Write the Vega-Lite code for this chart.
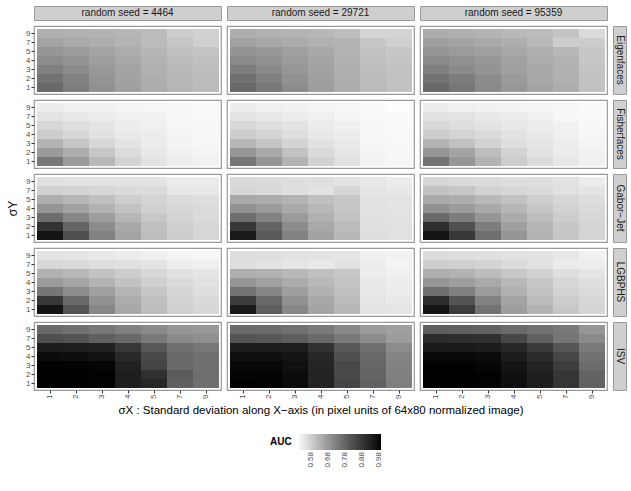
{
"$schema": "https://vega.github.io/schema/vega-lite/v6.json",
"background": "white",
"padding": {"left": 5, "top": 5, "right": 5, "bottom": 5},
"columns": 4,
"spacing": 6,
"bounds": "flush",
"resolve": {"scale": {"color": "shared"}},
"config": {
  "font": "Liberation Sans",
  "view": {"stroke": "#9a9a9a", "strokeWidth": 1.2},
  "axis": {"domain": false, "grid": false, "tickSize": 3, "tickColor": "#333333", "labelFontSize": 8, "labelColor": "#4d4d4d", "labelPadding": 1, "titleFontSize": 11.5, "titleFontWeight": "normal", "titleColor": "#000000"},
  "axisX": {"labelAngle": -90, "titlePadding": 6},
  "axisY": {"labelAngle": 0, "titlePadding": 6},
  "scale": {"bandPaddingInner": 0},
  "legend": {"orient": "none", "legendX": 236, "legendY": 428, "direction": "horizontal", "gradientLength": 84, "gradientThickness": 16, "titleOrient": "left", "titleFontWeight": "bold", "titleFontSize": 10, "titleColor": "#000000", "labelFontSize": 8, "labelColor": "#4d4d4d", "labelOverlap": false}
},
"datasets": {
"E1": [
{"sx":1,"sy":9,"auc":0.639},{"sx":2,"sy":9,"auc":0.636},{"sx":3,"sy":9,"auc":0.632},{"sx":4,"sy":9,"auc":0.628},{"sx":5,"sy":9,"auc":0.618},{"sx":7,"sy":9,"auc":0.586},{"sx":9,"sy":9,"auc":0.578},
{"sx":1,"sy":7,"auc":0.659},{"sx":2,"sy":7,"auc":0.650},{"sx":3,"sy":7,"auc":0.641},{"sx":4,"sy":7,"auc":0.632},{"sx":5,"sy":7,"auc":0.618},{"sx":7,"sy":7,"auc":0.599},{"sx":9,"sy":7,"auc":0.581},
{"sx":1,"sy":5,"auc":0.686},{"sx":2,"sy":5,"auc":0.677},{"sx":3,"sy":5,"auc":0.659},{"sx":4,"sy":5,"auc":0.646},{"sx":5,"sy":5,"auc":0.628},{"sx":7,"sy":5,"auc":0.610},{"sx":9,"sy":5,"auc":0.603},
{"sx":1,"sy":4,"auc":0.705},{"sx":2,"sy":4,"auc":0.690},{"sx":3,"sy":4,"auc":0.671},{"sx":4,"sy":4,"auc":0.653},{"sx":5,"sy":4,"auc":0.632},{"sx":7,"sy":4,"auc":0.618},{"sx":9,"sy":4,"auc":0.610},
{"sx":1,"sy":3,"auc":0.728},{"sx":2,"sy":3,"auc":0.705},{"sx":3,"sy":3,"auc":0.682},{"sx":4,"sy":3,"auc":0.659},{"sx":5,"sy":3,"auc":0.636},{"sx":7,"sy":3,"auc":0.621},{"sx":9,"sy":3,"auc":0.614},
{"sx":1,"sy":2,"auc":0.753},{"sx":2,"sy":2,"auc":0.724},{"sx":3,"sy":2,"auc":0.690},{"sx":4,"sy":2,"auc":0.664},{"sx":5,"sy":2,"auc":0.641},{"sx":7,"sy":2,"auc":0.625},{"sx":9,"sy":2,"auc":0.618},
{"sx":1,"sy":1,"auc":0.772},{"sx":2,"sy":1,"auc":0.734},{"sx":3,"sy":1,"auc":0.696},{"sx":4,"sy":1,"auc":0.668},{"sx":5,"sy":1,"auc":0.646},{"sx":7,"sy":1,"auc":0.628},{"sx":9,"sy":1,"auc":0.618}
],
"E2": [
{"sx":1,"sy":9,"auc":0.641},{"sx":2,"sy":9,"auc":0.636},{"sx":3,"sy":9,"auc":0.632},{"sx":4,"sy":9,"auc":0.626},{"sx":5,"sy":9,"auc":0.614},{"sx":7,"sy":9,"auc":0.574},{"sx":9,"sy":9,"auc":0.574},
{"sx":1,"sy":7,"auc":0.664},{"sx":2,"sy":7,"auc":0.653},{"sx":3,"sy":7,"auc":0.646},{"sx":4,"sy":7,"auc":0.636},{"sx":5,"sy":7,"auc":0.632},{"sx":7,"sy":7,"auc":0.596},{"sx":9,"sy":7,"auc":0.581},
{"sx":1,"sy":5,"auc":0.690},{"sx":2,"sy":5,"auc":0.682},{"sx":3,"sy":5,"auc":0.668},{"sx":4,"sy":5,"auc":0.653},{"sx":5,"sy":5,"auc":0.632},{"sx":7,"sy":5,"auc":0.605},{"sx":9,"sy":5,"auc":0.599},
{"sx":1,"sy":4,"auc":0.709},{"sx":2,"sy":4,"auc":0.696},{"sx":3,"sy":4,"auc":0.677},{"sx":4,"sy":4,"auc":0.659},{"sx":5,"sy":4,"auc":0.636},{"sx":7,"sy":4,"auc":0.610},{"sx":9,"sy":4,"auc":0.603},
{"sx":1,"sy":3,"auc":0.734},{"sx":2,"sy":3,"auc":0.709},{"sx":3,"sy":3,"auc":0.686},{"sx":4,"sy":3,"auc":0.664},{"sx":5,"sy":3,"auc":0.639},{"sx":7,"sy":3,"auc":0.614},{"sx":9,"sy":3,"auc":0.605},
{"sx":1,"sy":2,"auc":0.759},{"sx":2,"sy":2,"auc":0.728},{"sx":3,"sy":2,"auc":0.696},{"sx":4,"sy":2,"auc":0.668},{"sx":5,"sy":2,"auc":0.641},{"sx":7,"sy":2,"auc":0.618},{"sx":9,"sy":2,"auc":0.606},
{"sx":1,"sy":1,"auc":0.772},{"sx":2,"sy":1,"auc":0.740},{"sx":3,"sy":1,"auc":0.705},{"sx":4,"sy":1,"auc":0.671},{"sx":5,"sy":1,"auc":0.646},{"sx":7,"sy":1,"auc":0.618},{"sx":9,"sy":1,"auc":0.605}
],
"E3": [
{"sx":1,"sy":9,"auc":0.646},{"sx":2,"sy":9,"auc":0.639},{"sx":3,"sy":9,"auc":0.632},{"sx":4,"sy":9,"auc":0.623},{"sx":5,"sy":9,"auc":0.618},{"sx":7,"sy":9,"auc":0.603},{"sx":9,"sy":9,"auc":0.564},
{"sx":1,"sy":7,"auc":0.668},{"sx":2,"sy":7,"auc":0.659},{"sx":3,"sy":7,"auc":0.650},{"sx":4,"sy":7,"auc":0.641},{"sx":5,"sy":7,"auc":0.623},{"sx":7,"sy":7,"auc":0.586},{"sx":9,"sy":7,"auc":0.586},
{"sx":1,"sy":5,"auc":0.686},{"sx":2,"sy":5,"auc":0.677},{"sx":3,"sy":5,"auc":0.668},{"sx":4,"sy":5,"auc":0.653},{"sx":5,"sy":5,"auc":0.641},{"sx":7,"sy":5,"auc":0.623},{"sx":9,"sy":5,"auc":0.596},
{"sx":1,"sy":4,"auc":0.709},{"sx":2,"sy":4,"auc":0.696},{"sx":3,"sy":4,"auc":0.682},{"sx":4,"sy":4,"auc":0.664},{"sx":5,"sy":4,"auc":0.646},{"sx":7,"sy":4,"auc":0.632},{"sx":9,"sy":4,"auc":0.599},
{"sx":1,"sy":3,"auc":0.728},{"sx":2,"sy":3,"auc":0.709},{"sx":3,"sy":3,"auc":0.690},{"sx":4,"sy":3,"auc":0.668},{"sx":5,"sy":3,"auc":0.650},{"sx":7,"sy":3,"auc":0.636},{"sx":9,"sy":3,"auc":0.603},
{"sx":1,"sy":2,"auc":0.753},{"sx":2,"sy":2,"auc":0.734},{"sx":3,"sy":2,"auc":0.705},{"sx":4,"sy":2,"auc":0.677},{"sx":5,"sy":2,"auc":0.653},{"sx":7,"sy":2,"auc":0.636},{"sx":9,"sy":2,"auc":0.605},
{"sx":1,"sy":1,"auc":0.772},{"sx":2,"sy":1,"auc":0.744},{"sx":3,"sy":1,"auc":0.709},{"sx":4,"sy":1,"auc":0.682},{"sx":5,"sy":1,"auc":0.659},{"sx":7,"sy":1,"auc":0.641},{"sx":9,"sy":1,"auc":0.605}
],
"F1": [
{"sx":1,"sy":9,"auc":0.530},{"sx":2,"sy":9,"auc":0.526},{"sx":3,"sy":9,"auc":0.523},{"sx":4,"sy":9,"auc":0.519},{"sx":5,"sy":9,"auc":0.516},{"sx":7,"sy":9,"auc":0.512},{"sx":9,"sy":9,"auc":0.509},
{"sx":1,"sy":7,"auc":0.547},{"sx":2,"sy":7,"auc":0.540},{"sx":3,"sy":7,"auc":0.533},{"sx":4,"sy":7,"auc":0.526},{"sx":5,"sy":7,"auc":0.523},{"sx":7,"sy":7,"auc":0.512},{"sx":9,"sy":7,"auc":0.509},
{"sx":1,"sy":5,"auc":0.569},{"sx":2,"sy":5,"auc":0.557},{"sx":3,"sy":5,"auc":0.544},{"sx":4,"sy":5,"auc":0.533},{"sx":5,"sy":5,"auc":0.526},{"sx":7,"sy":5,"auc":0.516},{"sx":9,"sy":5,"auc":0.512},
{"sx":1,"sy":4,"auc":0.586},{"sx":2,"sy":4,"auc":0.569},{"sx":3,"sy":4,"auc":0.552},{"sx":4,"sy":4,"auc":0.538},{"sx":5,"sy":4,"auc":0.530},{"sx":7,"sy":4,"auc":0.518},{"sx":9,"sy":4,"auc":0.512},
{"sx":1,"sy":3,"auc":0.632},{"sx":2,"sy":3,"auc":0.599},{"sx":3,"sy":3,"auc":0.569},{"sx":4,"sy":3,"auc":0.547},{"sx":5,"sy":3,"auc":0.533},{"sx":7,"sy":3,"auc":0.521},{"sx":9,"sy":3,"auc":0.516},
{"sx":1,"sy":2,"auc":0.677},{"sx":2,"sy":2,"auc":0.641},{"sx":3,"sy":2,"auc":0.596},{"sx":4,"sy":2,"auc":0.561},{"sx":5,"sy":2,"auc":0.540},{"sx":7,"sy":2,"auc":0.526},{"sx":9,"sy":2,"auc":0.519},
{"sx":1,"sy":1,"auc":0.744},{"sx":2,"sy":1,"auc":0.677},{"sx":3,"sy":1,"auc":0.623},{"sx":4,"sy":1,"auc":0.574},{"sx":5,"sy":1,"auc":0.547},{"sx":7,"sy":1,"auc":0.530},{"sx":9,"sy":1,"auc":0.523}
],
"F2": [
{"sx":1,"sy":9,"auc":0.530},{"sx":2,"sy":9,"auc":0.526},{"sx":3,"sy":9,"auc":0.523},{"sx":4,"sy":9,"auc":0.519},{"sx":5,"sy":9,"auc":0.516},{"sx":7,"sy":9,"auc":0.509},{"sx":9,"sy":9,"auc":0.503},
{"sx":1,"sy":7,"auc":0.547},{"sx":2,"sy":7,"auc":0.540},{"sx":3,"sy":7,"auc":0.533},{"sx":4,"sy":7,"auc":0.526},{"sx":5,"sy":7,"auc":0.519},{"sx":7,"sy":7,"auc":0.509},{"sx":9,"sy":7,"auc":0.509},
{"sx":1,"sy":5,"auc":0.569},{"sx":2,"sy":5,"auc":0.557},{"sx":3,"sy":5,"auc":0.547},{"sx":4,"sy":5,"auc":0.533},{"sx":5,"sy":5,"auc":0.526},{"sx":7,"sy":5,"auc":0.512},{"sx":9,"sy":5,"auc":0.509},
{"sx":1,"sy":4,"auc":0.586},{"sx":2,"sy":4,"auc":0.574},{"sx":3,"sy":4,"auc":0.557},{"sx":4,"sy":4,"auc":0.540},{"sx":5,"sy":4,"auc":0.530},{"sx":7,"sy":4,"auc":0.514},{"sx":9,"sy":4,"auc":0.510},
{"sx":1,"sy":3,"auc":0.628},{"sx":2,"sy":3,"auc":0.603},{"sx":3,"sy":3,"auc":0.574},{"sx":4,"sy":3,"auc":0.550},{"sx":5,"sy":3,"auc":0.537},{"sx":7,"sy":3,"auc":0.516},{"sx":9,"sy":3,"auc":0.512},
{"sx":1,"sy":2,"auc":0.686},{"sx":2,"sy":2,"auc":0.650},{"sx":3,"sy":2,"auc":0.605},{"sx":4,"sy":2,"auc":0.564},{"sx":5,"sy":2,"auc":0.544},{"sx":7,"sy":2,"auc":0.518},{"sx":9,"sy":2,"auc":0.514},
{"sx":1,"sy":1,"auc":0.747},{"sx":2,"sy":1,"auc":0.686},{"sx":3,"sy":1,"auc":0.632},{"sx":4,"sy":1,"auc":0.578},{"sx":5,"sy":1,"auc":0.552},{"sx":7,"sy":1,"auc":0.521},{"sx":9,"sy":1,"auc":0.516}
],
"F3": [
{"sx":1,"sy":9,"auc":0.530},{"sx":2,"sy":9,"auc":0.526},{"sx":3,"sy":9,"auc":0.523},{"sx":4,"sy":9,"auc":0.521},{"sx":5,"sy":9,"auc":0.519},{"sx":7,"sy":9,"auc":0.516},{"sx":9,"sy":9,"auc":0.509},
{"sx":1,"sy":7,"auc":0.552},{"sx":2,"sy":7,"auc":0.547},{"sx":3,"sy":7,"auc":0.537},{"sx":4,"sy":7,"auc":0.530},{"sx":5,"sy":7,"auc":0.523},{"sx":7,"sy":7,"auc":0.512},{"sx":9,"sy":7,"auc":0.509},
{"sx":1,"sy":5,"auc":0.569},{"sx":2,"sy":5,"auc":0.557},{"sx":3,"sy":5,"auc":0.547},{"sx":4,"sy":5,"auc":0.540},{"sx":5,"sy":5,"auc":0.533},{"sx":7,"sy":5,"auc":0.523},{"sx":9,"sy":5,"auc":0.512},
{"sx":1,"sy":4,"auc":0.586},{"sx":2,"sy":4,"auc":0.574},{"sx":3,"sy":4,"auc":0.561},{"sx":4,"sy":4,"auc":0.547},{"sx":5,"sy":4,"auc":0.537},{"sx":7,"sy":4,"auc":0.526},{"sx":9,"sy":4,"auc":0.516},
{"sx":1,"sy":3,"auc":0.632},{"sx":2,"sy":3,"auc":0.605},{"sx":3,"sy":3,"auc":0.578},{"sx":4,"sy":3,"auc":0.557},{"sx":5,"sy":3,"auc":0.544},{"sx":7,"sy":3,"auc":0.530},{"sx":9,"sy":3,"auc":0.519},
{"sx":1,"sy":2,"auc":0.686},{"sx":2,"sy":2,"auc":0.659},{"sx":3,"sy":2,"auc":0.614},{"sx":4,"sy":2,"auc":0.578},{"sx":5,"sy":2,"auc":0.550},{"sx":7,"sy":2,"auc":0.533},{"sx":9,"sy":2,"auc":0.523},
{"sx":1,"sy":1,"auc":0.753},{"sx":2,"sy":1,"auc":0.686},{"sx":3,"sy":1,"auc":0.632},{"sx":4,"sy":1,"auc":0.586},{"sx":5,"sy":1,"auc":0.561},{"sx":7,"sy":1,"auc":0.540},{"sx":9,"sy":1,"auc":0.526}
],
"G1": [
{"sx":1,"sy":9,"auc":0.552},{"sx":2,"sy":9,"auc":0.550},{"sx":3,"sy":9,"auc":0.550},{"sx":4,"sy":9,"auc":0.547},{"sx":5,"sy":9,"auc":0.547},{"sx":7,"sy":9,"auc":0.533},{"sx":9,"sy":9,"auc":0.533},
{"sx":1,"sy":7,"auc":0.578},{"sx":2,"sy":7,"auc":0.574},{"sx":3,"sy":7,"auc":0.569},{"sx":4,"sy":7,"auc":0.564},{"sx":5,"sy":7,"auc":0.561},{"sx":7,"sy":7,"auc":0.540},{"sx":9,"sy":7,"auc":0.540},
{"sx":1,"sy":5,"auc":0.641},{"sx":2,"sy":5,"auc":0.628},{"sx":3,"sy":5,"auc":0.610},{"sx":4,"sy":5,"auc":0.586},{"sx":5,"sy":5,"auc":0.574},{"sx":7,"sy":5,"auc":0.561},{"sx":9,"sy":5,"auc":0.557},
{"sx":1,"sy":4,"auc":0.686},{"sx":2,"sy":4,"auc":0.664},{"sx":3,"sy":4,"auc":0.636},{"sx":4,"sy":4,"auc":0.605},{"sx":5,"sy":4,"auc":0.581},{"sx":7,"sy":4,"auc":0.568},{"sx":9,"sy":4,"auc":0.561},
{"sx":1,"sy":3,"auc":0.763},{"sx":2,"sy":3,"auc":0.715},{"sx":3,"sy":3,"auc":0.671},{"sx":4,"sy":3,"auc":0.628},{"sx":5,"sy":3,"auc":0.596},{"sx":7,"sy":3,"auc":0.574},{"sx":9,"sy":3,"auc":0.564},
{"sx":1,"sy":2,"auc":0.889},{"sx":2,"sy":2,"auc":0.783},{"sx":3,"sy":2,"auc":0.705},{"sx":4,"sy":2,"auc":0.650},{"sx":5,"sy":2,"auc":0.610},{"sx":7,"sy":2,"auc":0.581},{"sx":9,"sy":2,"auc":0.569},
{"sx":1,"sy":1,"auc":0.959},{"sx":2,"sy":1,"auc":0.824},{"sx":3,"sy":1,"auc":0.724},{"sx":4,"sy":1,"auc":0.659},{"sx":5,"sy":1,"auc":0.614},{"sx":7,"sy":1,"auc":0.586},{"sx":9,"sy":1,"auc":0.569}
],
"G2": [
{"sx":1,"sy":9,"auc":0.564},{"sx":2,"sy":9,"auc":0.561},{"sx":3,"sy":9,"auc":0.557},{"sx":4,"sy":9,"auc":0.554},{"sx":5,"sy":9,"auc":0.547},{"sx":7,"sy":9,"auc":0.540},{"sx":9,"sy":9,"auc":0.533},
{"sx":1,"sy":7,"auc":0.571},{"sx":2,"sy":7,"auc":0.564},{"sx":3,"sy":7,"auc":0.554},{"sx":4,"sy":7,"auc":0.550},{"sx":5,"sy":7,"auc":0.571},{"sx":7,"sy":7,"auc":0.544},{"sx":9,"sy":7,"auc":0.540},
{"sx":1,"sy":5,"auc":0.653},{"sx":2,"sy":5,"auc":0.646},{"sx":3,"sy":5,"auc":0.632},{"sx":4,"sy":5,"auc":0.610},{"sx":5,"sy":5,"auc":0.596},{"sx":7,"sy":5,"auc":0.550},{"sx":9,"sy":5,"auc":0.547},
{"sx":1,"sy":4,"auc":0.696},{"sx":2,"sy":4,"auc":0.677},{"sx":3,"sy":4,"auc":0.650},{"sx":4,"sy":4,"auc":0.623},{"sx":5,"sy":4,"auc":0.599},{"sx":7,"sy":4,"auc":0.550},{"sx":9,"sy":4,"auc":0.547},
{"sx":1,"sy":3,"auc":0.763},{"sx":2,"sy":3,"auc":0.724},{"sx":3,"sy":3,"auc":0.677},{"sx":4,"sy":3,"auc":0.636},{"sx":5,"sy":3,"auc":0.605},{"sx":7,"sy":3,"auc":0.552},{"sx":9,"sy":3,"auc":0.550},
{"sx":1,"sy":2,"auc":0.878},{"sx":2,"sy":2,"auc":0.783},{"sx":3,"sy":2,"auc":0.705},{"sx":4,"sy":2,"auc":0.653},{"sx":5,"sy":2,"auc":0.618},{"sx":7,"sy":2,"auc":0.554},{"sx":9,"sy":2,"auc":0.552},
{"sx":1,"sy":1,"auc":0.947},{"sx":2,"sy":1,"auc":0.803},{"sx":3,"sy":1,"auc":0.724},{"sx":4,"sy":1,"auc":0.664},{"sx":5,"sy":1,"auc":0.623},{"sx":7,"sy":1,"auc":0.557},{"sx":9,"sy":1,"auc":0.552}
],
"G3": [
{"sx":1,"sy":9,"auc":0.568},{"sx":2,"sy":9,"auc":0.564},{"sx":3,"sy":9,"auc":0.561},{"sx":4,"sy":9,"auc":0.557},{"sx":5,"sy":9,"auc":0.554},{"sx":7,"sy":9,"auc":0.550},{"sx":9,"sy":9,"auc":0.533},
{"sx":1,"sy":7,"auc":0.605},{"sx":2,"sy":7,"auc":0.596},{"sx":3,"sy":7,"auc":0.578},{"sx":4,"sy":7,"auc":0.569},{"sx":5,"sy":7,"auc":0.561},{"sx":7,"sy":7,"auc":0.552},{"sx":9,"sy":7,"auc":0.544},
{"sx":1,"sy":5,"auc":0.650},{"sx":2,"sy":5,"auc":0.641},{"sx":3,"sy":5,"auc":0.623},{"sx":4,"sy":5,"auc":0.605},{"sx":5,"sy":5,"auc":0.586},{"sx":7,"sy":5,"auc":0.569},{"sx":9,"sy":5,"auc":0.557},
{"sx":1,"sy":4,"auc":0.696},{"sx":2,"sy":4,"auc":0.677},{"sx":3,"sy":4,"auc":0.653},{"sx":4,"sy":4,"auc":0.628},{"sx":5,"sy":4,"auc":0.599},{"sx":7,"sy":4,"auc":0.578},{"sx":9,"sy":4,"auc":0.564},
{"sx":1,"sy":3,"auc":0.772},{"sx":2,"sy":3,"auc":0.734},{"sx":3,"sy":3,"auc":0.686},{"sx":4,"sy":3,"auc":0.646},{"sx":5,"sy":3,"auc":0.614},{"sx":7,"sy":3,"auc":0.586},{"sx":9,"sy":3,"auc":0.569},
{"sx":1,"sy":2,"auc":0.900},{"sx":2,"sy":2,"auc":0.824},{"sx":3,"sy":2,"auc":0.734},{"sx":4,"sy":2,"auc":0.668},{"sx":5,"sy":2,"auc":0.628},{"sx":7,"sy":2,"auc":0.596},{"sx":9,"sy":2,"auc":0.574},
{"sx":1,"sy":1,"auc":0.959},{"sx":2,"sy":1,"auc":0.878},{"sx":3,"sy":1,"auc":0.763},{"sx":4,"sy":1,"auc":0.686},{"sx":5,"sy":1,"auc":0.632},{"sx":7,"sy":1,"auc":0.599},{"sx":9,"sy":1,"auc":0.574}
],
"L1": [
{"sx":1,"sy":9,"auc":0.547},{"sx":2,"sy":9,"auc":0.544},{"sx":3,"sy":9,"auc":0.540},{"sx":4,"sy":9,"auc":0.533},{"sx":5,"sy":9,"auc":0.526},{"sx":7,"sy":9,"auc":0.519},{"sx":9,"sy":9,"auc":0.516},
{"sx":1,"sy":7,"auc":0.569},{"sx":2,"sy":7,"auc":0.564},{"sx":3,"sy":7,"auc":0.557},{"sx":4,"sy":7,"auc":0.554},{"sx":5,"sy":7,"auc":0.547},{"sx":7,"sy":7,"auc":0.530},{"sx":9,"sy":7,"auc":0.526},
{"sx":1,"sy":5,"auc":0.636},{"sx":2,"sy":5,"auc":0.623},{"sx":3,"sy":5,"auc":0.605},{"sx":4,"sy":5,"auc":0.586},{"sx":5,"sy":5,"auc":0.569},{"sx":7,"sy":5,"auc":0.552},{"sx":9,"sy":5,"auc":0.544},
{"sx":1,"sy":4,"auc":0.677},{"sx":2,"sy":4,"auc":0.659},{"sx":3,"sy":4,"auc":0.632},{"sx":4,"sy":4,"auc":0.605},{"sx":5,"sy":4,"auc":0.581},{"sx":7,"sy":4,"auc":0.561},{"sx":9,"sy":4,"auc":0.550},
{"sx":1,"sy":3,"auc":0.747},{"sx":2,"sy":3,"auc":0.705},{"sx":3,"sy":3,"auc":0.668},{"sx":4,"sy":3,"auc":0.628},{"sx":5,"sy":3,"auc":0.596},{"sx":7,"sy":3,"auc":0.571},{"sx":9,"sy":3,"auc":0.557},
{"sx":1,"sy":2,"auc":0.878},{"sx":2,"sy":2,"auc":0.772},{"sx":3,"sy":2,"auc":0.696},{"sx":4,"sy":2,"auc":0.646},{"sx":5,"sy":2,"auc":0.610},{"sx":7,"sy":2,"auc":0.578},{"sx":9,"sy":2,"auc":0.564},
{"sx":1,"sy":1,"auc":0.959},{"sx":2,"sy":1,"auc":0.814},{"sx":3,"sy":1,"auc":0.715},{"sx":4,"sy":1,"auc":0.653},{"sx":5,"sy":1,"auc":0.614},{"sx":7,"sy":1,"auc":0.581},{"sx":9,"sy":1,"auc":0.568}
],
"L2": [
{"sx":1,"sy":9,"auc":0.557},{"sx":2,"sy":9,"auc":0.554},{"sx":3,"sy":9,"auc":0.550},{"sx":4,"sy":9,"auc":0.547},{"sx":5,"sy":9,"auc":0.544},{"sx":7,"sy":9,"auc":0.526},{"sx":9,"sy":9,"auc":0.523},
{"sx":1,"sy":7,"auc":0.554},{"sx":2,"sy":7,"auc":0.550},{"sx":3,"sy":7,"auc":0.544},{"sx":4,"sy":7,"auc":0.537},{"sx":5,"sy":7,"auc":0.550},{"sx":7,"sy":7,"auc":0.530},{"sx":9,"sy":7,"auc":0.519},
{"sx":1,"sy":5,"auc":0.641},{"sx":2,"sy":5,"auc":0.636},{"sx":3,"sy":5,"auc":0.623},{"sx":4,"sy":5,"auc":0.610},{"sx":5,"sy":5,"auc":0.596},{"sx":7,"sy":5,"auc":0.533},{"sx":9,"sy":5,"auc":0.526},
{"sx":1,"sy":4,"auc":0.686},{"sx":2,"sy":4,"auc":0.668},{"sx":3,"sy":4,"auc":0.646},{"sx":4,"sy":4,"auc":0.623},{"sx":5,"sy":4,"auc":0.603},{"sx":7,"sy":4,"auc":0.537},{"sx":9,"sy":4,"auc":0.530},
{"sx":1,"sy":3,"auc":0.753},{"sx":2,"sy":3,"auc":0.715},{"sx":3,"sy":3,"auc":0.671},{"sx":4,"sy":3,"auc":0.636},{"sx":5,"sy":3,"auc":0.610},{"sx":7,"sy":3,"auc":0.540},{"sx":9,"sy":3,"auc":0.533},
{"sx":1,"sy":2,"auc":0.867},{"sx":2,"sy":2,"auc":0.772},{"sx":3,"sy":2,"auc":0.696},{"sx":4,"sy":2,"auc":0.650},{"sx":5,"sy":2,"auc":0.618},{"sx":7,"sy":2,"auc":0.544},{"sx":9,"sy":2,"auc":0.537},
{"sx":1,"sy":1,"auc":0.947},{"sx":2,"sy":1,"auc":0.793},{"sx":3,"sy":1,"auc":0.715},{"sx":4,"sy":1,"auc":0.659},{"sx":5,"sy":1,"auc":0.623},{"sx":7,"sy":1,"auc":0.547},{"sx":9,"sy":1,"auc":0.544}
],
"L3": [
{"sx":1,"sy":9,"auc":0.561},{"sx":2,"sy":9,"auc":0.557},{"sx":3,"sy":9,"auc":0.554},{"sx":4,"sy":9,"auc":0.550},{"sx":5,"sy":9,"auc":0.547},{"sx":7,"sy":9,"auc":0.540},{"sx":9,"sy":9,"auc":0.523},
{"sx":1,"sy":7,"auc":0.586},{"sx":2,"sy":7,"auc":0.581},{"sx":3,"sy":7,"auc":0.574},{"sx":4,"sy":7,"auc":0.561},{"sx":5,"sy":7,"auc":0.552},{"sx":7,"sy":7,"auc":0.533},{"sx":9,"sy":7,"auc":0.530},
{"sx":1,"sy":5,"auc":0.641},{"sx":2,"sy":5,"auc":0.632},{"sx":3,"sy":5,"auc":0.614},{"sx":4,"sy":5,"auc":0.596},{"sx":5,"sy":5,"auc":0.578},{"sx":7,"sy":5,"auc":0.557},{"sx":9,"sy":5,"auc":0.544},
{"sx":1,"sy":4,"auc":0.686},{"sx":2,"sy":4,"auc":0.671},{"sx":3,"sy":4,"auc":0.650},{"sx":4,"sy":4,"auc":0.623},{"sx":5,"sy":4,"auc":0.596},{"sx":7,"sy":4,"auc":0.569},{"sx":9,"sy":4,"auc":0.554},
{"sx":1,"sy":3,"auc":0.763},{"sx":2,"sy":3,"auc":0.728},{"sx":3,"sy":3,"auc":0.677},{"sx":4,"sy":3,"auc":0.636},{"sx":5,"sy":3,"auc":0.605},{"sx":7,"sy":3,"auc":0.578},{"sx":9,"sy":3,"auc":0.561},
{"sx":1,"sy":2,"auc":0.900},{"sx":2,"sy":2,"auc":0.814},{"sx":3,"sy":2,"auc":0.724},{"sx":4,"sy":2,"auc":0.659},{"sx":5,"sy":2,"auc":0.618},{"sx":7,"sy":2,"auc":0.586},{"sx":9,"sy":2,"auc":0.569},
{"sx":1,"sy":1,"auc":0.959},{"sx":2,"sy":1,"auc":0.867},{"sx":3,"sy":1,"auc":0.753},{"sx":4,"sy":1,"auc":0.671},{"sx":5,"sy":1,"auc":0.632},{"sx":7,"sy":1,"auc":0.596},{"sx":9,"sy":1,"auc":0.571}
],
"I1": [
{"sx":1,"sy":9,"auc":0.770},{"sx":2,"sy":9,"auc":0.759},{"sx":3,"sy":9,"auc":0.744},{"sx":4,"sy":9,"auc":0.728},{"sx":5,"sy":9,"auc":0.709},{"sx":7,"sy":9,"auc":0.688},{"sx":9,"sy":9,"auc":0.682},
{"sx":1,"sy":7,"auc":0.824},{"sx":2,"sy":7,"auc":0.814},{"sx":3,"sy":7,"auc":0.791},{"sx":4,"sy":7,"auc":0.774},{"sx":5,"sy":7,"auc":0.740},{"sx":7,"sy":7,"auc":0.709},{"sx":9,"sy":7,"auc":0.698},
{"sx":1,"sy":5,"auc":0.940},{"sx":2,"sy":5,"auc":0.936},{"sx":3,"sy":5,"auc":0.927},{"sx":4,"sy":5,"auc":0.876},{"sx":5,"sy":5,"auc":0.808},{"sx":7,"sy":5,"auc":0.759},{"sx":9,"sy":5,"auc":0.744},
{"sx":1,"sy":4,"auc":0.974},{"sx":2,"sy":4,"auc":0.971},{"sx":3,"sy":4,"auc":0.963},{"sx":4,"sy":4,"auc":0.908},{"sx":5,"sy":4,"auc":0.841},{"sx":7,"sy":4,"auc":0.774},{"sx":9,"sy":4,"auc":0.759},
{"sx":1,"sy":3,"auc":0.987},{"sx":2,"sy":3,"auc":0.987},{"sx":3,"sy":3,"auc":0.983},{"sx":4,"sy":3,"auc":0.927},{"sx":5,"sy":3,"auc":0.847},{"sx":7,"sy":3,"auc":0.774},{"sx":9,"sy":3,"auc":0.759},
{"sx":1,"sy":2,"auc":0.990},{"sx":2,"sy":2,"auc":0.990},{"sx":3,"sy":2,"auc":0.987},{"sx":4,"sy":2,"auc":0.936},{"sx":5,"sy":2,"auc":0.893},{"sx":7,"sy":2,"auc":0.803},{"sx":9,"sy":2,"auc":0.763},
{"sx":1,"sy":1,"auc":0.990},{"sx":2,"sy":1,"auc":0.990},{"sx":3,"sy":1,"auc":0.987},{"sx":4,"sy":1,"auc":0.936},{"sx":5,"sy":1,"auc":0.913},{"sx":7,"sy":1,"auc":0.791},{"sx":9,"sy":1,"auc":0.759}
],
"I2": [
{"sx":1,"sy":9,"auc":0.770},{"sx":2,"sy":9,"auc":0.767},{"sx":3,"sy":9,"auc":0.759},{"sx":4,"sy":9,"auc":0.740},{"sx":5,"sy":9,"auc":0.713},{"sx":7,"sy":9,"auc":0.679},{"sx":9,"sy":9,"auc":0.668},
{"sx":1,"sy":7,"auc":0.814},{"sx":2,"sy":7,"auc":0.808},{"sx":3,"sy":7,"auc":0.795},{"sx":4,"sy":7,"auc":0.770},{"sx":5,"sy":7,"auc":0.740},{"sx":7,"sy":7,"auc":0.705},{"sx":9,"sy":7,"auc":0.675},
{"sx":1,"sy":5,"auc":0.940},{"sx":2,"sy":5,"auc":0.940},{"sx":3,"sy":5,"auc":0.936},{"sx":4,"sy":5,"auc":0.889},{"sx":5,"sy":5,"auc":0.808},{"sx":7,"sy":5,"auc":0.759},{"sx":9,"sy":5,"auc":0.705},
{"sx":1,"sy":4,"auc":0.967},{"sx":2,"sy":4,"auc":0.967},{"sx":3,"sy":4,"auc":0.959},{"sx":4,"sy":4,"auc":0.913},{"sx":5,"sy":4,"auc":0.824},{"sx":7,"sy":4,"auc":0.774},{"sx":9,"sy":4,"auc":0.720},
{"sx":1,"sy":3,"auc":0.979},{"sx":2,"sy":3,"auc":0.979},{"sx":3,"sy":3,"auc":0.967},{"sx":4,"sy":3,"auc":0.917},{"sx":5,"sy":3,"auc":0.841},{"sx":7,"sy":3,"auc":0.781},{"sx":9,"sy":3,"auc":0.724},
{"sx":1,"sy":2,"auc":0.983},{"sx":2,"sy":2,"auc":0.985},{"sx":3,"sy":2,"auc":0.974},{"sx":4,"sy":2,"auc":0.922},{"sx":5,"sy":2,"auc":0.841},{"sx":7,"sy":2,"auc":0.781},{"sx":9,"sy":2,"auc":0.728},
{"sx":1,"sy":1,"auc":0.987},{"sx":2,"sy":1,"auc":0.987},{"sx":3,"sy":1,"auc":0.977},{"sx":4,"sy":1,"auc":0.922},{"sx":5,"sy":1,"auc":0.847},{"sx":7,"sy":1,"auc":0.787},{"sx":9,"sy":1,"auc":0.732}
],
"I3": [
{"sx":1,"sy":9,"auc":0.795},{"sx":2,"sy":9,"auc":0.791},{"sx":3,"sy":9,"auc":0.787},{"sx":4,"sy":9,"auc":0.770},{"sx":5,"sy":9,"auc":0.759},{"sx":7,"sy":9,"auc":0.740},{"sx":9,"sy":9,"auc":0.686},
{"sx":1,"sy":7,"auc":0.903},{"sx":2,"sy":7,"auc":0.898},{"sx":3,"sy":7,"auc":0.893},{"sx":4,"sy":7,"auc":0.841},{"sx":5,"sy":7,"auc":0.791},{"sx":7,"sy":7,"auc":0.747},{"sx":9,"sy":7,"auc":0.709},
{"sx":1,"sy":5,"auc":0.945},{"sx":2,"sy":5,"auc":0.945},{"sx":3,"sy":5,"auc":0.940},{"sx":4,"sy":5,"auc":0.913},{"sx":5,"sy":5,"auc":0.871},{"sx":7,"sy":5,"auc":0.812},{"sx":9,"sy":5,"auc":0.740},
{"sx":1,"sy":4,"auc":0.979},{"sx":2,"sy":4,"auc":0.979},{"sx":3,"sy":4,"auc":0.974},{"sx":4,"sy":4,"auc":0.940},{"sx":5,"sy":4,"auc":0.903},{"sx":7,"sy":4,"auc":0.845},{"sx":9,"sy":4,"auc":0.755},
{"sx":1,"sy":3,"auc":0.987},{"sx":2,"sy":3,"auc":0.987},{"sx":3,"sy":3,"auc":0.982},{"sx":4,"sy":3,"auc":0.959},{"sx":5,"sy":3,"auc":0.922},{"sx":7,"sy":3,"auc":0.863},{"sx":9,"sy":3,"auc":0.767},
{"sx":1,"sy":2,"auc":0.990},{"sx":2,"sy":2,"auc":0.990},{"sx":3,"sy":2,"auc":0.987},{"sx":4,"sy":2,"auc":0.967},{"sx":5,"sy":2,"auc":0.932},{"sx":7,"sy":2,"auc":0.880},{"sx":9,"sy":2,"auc":0.783},
{"sx":1,"sy":1,"auc":0.990},{"sx":2,"sy":1,"auc":0.990},{"sx":3,"sy":1,"auc":0.987},{"sx":4,"sy":1,"auc":0.971},{"sx":5,"sy":1,"auc":0.936},{"sx":7,"sy":1,"auc":0.884},{"sx":9,"sy":1,"auc":0.787}
]
},
"concat": [
{"width":187,"height":14,"data":{"values":[{"label":"random seed = 4464"}]},"mark":{"type":"text","fontSize":10,"color":"#1a1a1a"},"encoding":{"text":{"field":"label","type":"nominal"}},"view":{"fill":"#cfcfcf","stroke":"#9a9a9a"}},
{"width":187,"height":14,"data":{"values":[{"label":"random seed = 29721"}]},"mark":{"type":"text","fontSize":10,"color":"#1a1a1a"},"encoding":{"text":{"field":"label","type":"nominal"}},"view":{"fill":"#cfcfcf","stroke":"#9a9a9a"}},
{"width":187,"height":14,"data":{"values":[{"label":"random seed = 95359"}]},"mark":{"type":"text","fontSize":10,"color":"#1a1a1a"},"encoding":{"text":{"field":"label","type":"nominal"}},"view":{"fill":"#cfcfcf","stroke":"#9a9a9a"}},
{"width":13,"height":14,"data":{"values":[]},"mark":"text","encoding":{},"view":{"stroke":null}},

{"width":187,"height":68,"data":{"name":"E1"},"mark":"rect","encoding":{"x":{"field":"sx","type":"ordinal","scale":{"paddingOuter":0.08,"paddingInner":0,"round":true},"axis":null},"y":{"field":"sy","type":"ordinal","sort":"descending","scale":{"paddingOuter":0.2,"paddingInner":0,"round":true},"axis":{"title":null}},"color":{"field":"auc","type":"quantitative","scale":{"domain":[0.5,0.99],"nice":false,"zero":false,"range":["#ffffff","#000000"],"interpolate":"lab"},"legend":{"title":"AUC","values":[0.58,0.68,0.78,0.88,0.98],"format":".2f","encoding":{"labels":{"angle":{"value":-90},"align":{"value":"right"},"baseline":{"value":"middle"}}}}}}},
{"width":187,"height":68,"data":{"name":"E2"},"mark":"rect","encoding":{"x":{"field":"sx","type":"ordinal","scale":{"paddingOuter":0.08,"paddingInner":0,"round":true},"axis":null},"y":{"field":"sy","type":"ordinal","sort":"descending","scale":{"paddingOuter":0.2,"paddingInner":0,"round":true},"axis":null},"color":{"field":"auc","type":"quantitative","scale":{"domain":[0.5,0.99],"nice":false,"zero":false,"range":["#ffffff","#000000"],"interpolate":"lab"},"legend":{"title":"AUC","values":[0.58,0.68,0.78,0.88,0.98],"format":".2f","encoding":{"labels":{"angle":{"value":-90},"align":{"value":"right"},"baseline":{"value":"middle"}}}}}}},
{"width":187,"height":68,"data":{"name":"E3"},"mark":"rect","encoding":{"x":{"field":"sx","type":"ordinal","scale":{"paddingOuter":0.08,"paddingInner":0,"round":true},"axis":null},"y":{"field":"sy","type":"ordinal","sort":"descending","scale":{"paddingOuter":0.2,"paddingInner":0,"round":true},"axis":null},"color":{"field":"auc","type":"quantitative","scale":{"domain":[0.5,0.99],"nice":false,"zero":false,"range":["#ffffff","#000000"],"interpolate":"lab"},"legend":{"title":"AUC","values":[0.58,0.68,0.78,0.88,0.98],"format":".2f","encoding":{"labels":{"angle":{"value":-90},"align":{"value":"right"},"baseline":{"value":"middle"}}}}}}},
{"width":13,"height":68,"data":{"values":[{"label":"Eigenfaces"}]},"mark":{"type":"text","fontSize":10,"angle":90,"color":"#1a1a1a"},"encoding":{"text":{"field":"label","type":"nominal"}},"view":{"fill":"#cfcfcf","stroke":"#9a9a9a"}},

{"width":187,"height":68,"data":{"name":"F1"},"mark":"rect","encoding":{"x":{"field":"sx","type":"ordinal","scale":{"paddingOuter":0.08,"paddingInner":0,"round":true},"axis":null},"y":{"field":"sy","type":"ordinal","sort":"descending","scale":{"paddingOuter":0.2,"paddingInner":0,"round":true},"axis":{"title":null}},"color":{"field":"auc","type":"quantitative","scale":{"domain":[0.5,0.99],"nice":false,"zero":false,"range":["#ffffff","#000000"],"interpolate":"lab"},"legend":{"title":"AUC","values":[0.58,0.68,0.78,0.88,0.98],"format":".2f","encoding":{"labels":{"angle":{"value":-90},"align":{"value":"right"},"baseline":{"value":"middle"}}}}}}},
{"width":187,"height":68,"data":{"name":"F2"},"mark":"rect","encoding":{"x":{"field":"sx","type":"ordinal","scale":{"paddingOuter":0.08,"paddingInner":0,"round":true},"axis":null},"y":{"field":"sy","type":"ordinal","sort":"descending","scale":{"paddingOuter":0.2,"paddingInner":0,"round":true},"axis":null},"color":{"field":"auc","type":"quantitative","scale":{"domain":[0.5,0.99],"nice":false,"zero":false,"range":["#ffffff","#000000"],"interpolate":"lab"},"legend":{"title":"AUC","values":[0.58,0.68,0.78,0.88,0.98],"format":".2f","encoding":{"labels":{"angle":{"value":-90},"align":{"value":"right"},"baseline":{"value":"middle"}}}}}}},
{"width":187,"height":68,"data":{"name":"F3"},"mark":"rect","encoding":{"x":{"field":"sx","type":"ordinal","scale":{"paddingOuter":0.08,"paddingInner":0,"round":true},"axis":null},"y":{"field":"sy","type":"ordinal","sort":"descending","scale":{"paddingOuter":0.2,"paddingInner":0,"round":true},"axis":null},"color":{"field":"auc","type":"quantitative","scale":{"domain":[0.5,0.99],"nice":false,"zero":false,"range":["#ffffff","#000000"],"interpolate":"lab"},"legend":{"title":"AUC","values":[0.58,0.68,0.78,0.88,0.98],"format":".2f","encoding":{"labels":{"angle":{"value":-90},"align":{"value":"right"},"baseline":{"value":"middle"}}}}}}},
{"width":13,"height":68,"data":{"values":[{"label":"Fisherfaces"}]},"mark":{"type":"text","fontSize":10,"angle":90,"color":"#1a1a1a"},"encoding":{"text":{"field":"label","type":"nominal"}},"view":{"fill":"#cfcfcf","stroke":"#9a9a9a"}},

{"width":187,"height":68,"data":{"name":"G1"},"mark":"rect","encoding":{"x":{"field":"sx","type":"ordinal","scale":{"paddingOuter":0.08,"paddingInner":0,"round":true},"axis":null},"y":{"field":"sy","type":"ordinal","sort":"descending","scale":{"paddingOuter":0.2,"paddingInner":0,"round":true},"axis":{"title":"σY","titleFontSize":12}},"color":{"field":"auc","type":"quantitative","scale":{"domain":[0.5,0.99],"nice":false,"zero":false,"range":["#ffffff","#000000"],"interpolate":"lab"},"legend":{"title":"AUC","values":[0.58,0.68,0.78,0.88,0.98],"format":".2f","encoding":{"labels":{"angle":{"value":-90},"align":{"value":"right"},"baseline":{"value":"middle"}}}}}}},
{"width":187,"height":68,"data":{"name":"G2"},"mark":"rect","encoding":{"x":{"field":"sx","type":"ordinal","scale":{"paddingOuter":0.08,"paddingInner":0,"round":true},"axis":null},"y":{"field":"sy","type":"ordinal","sort":"descending","scale":{"paddingOuter":0.2,"paddingInner":0,"round":true},"axis":null},"color":{"field":"auc","type":"quantitative","scale":{"domain":[0.5,0.99],"nice":false,"zero":false,"range":["#ffffff","#000000"],"interpolate":"lab"},"legend":{"title":"AUC","values":[0.58,0.68,0.78,0.88,0.98],"format":".2f","encoding":{"labels":{"angle":{"value":-90},"align":{"value":"right"},"baseline":{"value":"middle"}}}}}}},
{"width":187,"height":68,"data":{"name":"G3"},"mark":"rect","encoding":{"x":{"field":"sx","type":"ordinal","scale":{"paddingOuter":0.08,"paddingInner":0,"round":true},"axis":null},"y":{"field":"sy","type":"ordinal","sort":"descending","scale":{"paddingOuter":0.2,"paddingInner":0,"round":true},"axis":null},"color":{"field":"auc","type":"quantitative","scale":{"domain":[0.5,0.99],"nice":false,"zero":false,"range":["#ffffff","#000000"],"interpolate":"lab"},"legend":{"title":"AUC","values":[0.58,0.68,0.78,0.88,0.98],"format":".2f","encoding":{"labels":{"angle":{"value":-90},"align":{"value":"right"},"baseline":{"value":"middle"}}}}}}},
{"width":13,"height":68,"data":{"values":[{"label":"Gabor−Jet"}]},"mark":{"type":"text","fontSize":10,"angle":90,"color":"#1a1a1a"},"encoding":{"text":{"field":"label","type":"nominal"}},"view":{"fill":"#cfcfcf","stroke":"#9a9a9a"}},

{"width":187,"height":68,"data":{"name":"L1"},"mark":"rect","encoding":{"x":{"field":"sx","type":"ordinal","scale":{"paddingOuter":0.08,"paddingInner":0,"round":true},"axis":null},"y":{"field":"sy","type":"ordinal","sort":"descending","scale":{"paddingOuter":0.2,"paddingInner":0,"round":true},"axis":{"title":null}},"color":{"field":"auc","type":"quantitative","scale":{"domain":[0.5,0.99],"nice":false,"zero":false,"range":["#ffffff","#000000"],"interpolate":"lab"},"legend":{"title":"AUC","values":[0.58,0.68,0.78,0.88,0.98],"format":".2f","encoding":{"labels":{"angle":{"value":-90},"align":{"value":"right"},"baseline":{"value":"middle"}}}}}}},
{"width":187,"height":68,"data":{"name":"L2"},"mark":"rect","encoding":{"x":{"field":"sx","type":"ordinal","scale":{"paddingOuter":0.08,"paddingInner":0,"round":true},"axis":null},"y":{"field":"sy","type":"ordinal","sort":"descending","scale":{"paddingOuter":0.2,"paddingInner":0,"round":true},"axis":null},"color":{"field":"auc","type":"quantitative","scale":{"domain":[0.5,0.99],"nice":false,"zero":false,"range":["#ffffff","#000000"],"interpolate":"lab"},"legend":{"title":"AUC","values":[0.58,0.68,0.78,0.88,0.98],"format":".2f","encoding":{"labels":{"angle":{"value":-90},"align":{"value":"right"},"baseline":{"value":"middle"}}}}}}},
{"width":187,"height":68,"data":{"name":"L3"},"mark":"rect","encoding":{"x":{"field":"sx","type":"ordinal","scale":{"paddingOuter":0.08,"paddingInner":0,"round":true},"axis":null},"y":{"field":"sy","type":"ordinal","sort":"descending","scale":{"paddingOuter":0.2,"paddingInner":0,"round":true},"axis":null},"color":{"field":"auc","type":"quantitative","scale":{"domain":[0.5,0.99],"nice":false,"zero":false,"range":["#ffffff","#000000"],"interpolate":"lab"},"legend":{"title":"AUC","values":[0.58,0.68,0.78,0.88,0.98],"format":".2f","encoding":{"labels":{"angle":{"value":-90},"align":{"value":"right"},"baseline":{"value":"middle"}}}}}}},
{"width":13,"height":68,"data":{"values":[{"label":"LGBPHS"}]},"mark":{"type":"text","fontSize":10,"angle":90,"color":"#1a1a1a"},"encoding":{"text":{"field":"label","type":"nominal"}},"view":{"fill":"#cfcfcf","stroke":"#9a9a9a"}},

{"width":187,"height":68,"data":{"name":"I1"},"mark":"rect","encoding":{"x":{"field":"sx","type":"ordinal","scale":{"paddingOuter":0.08,"paddingInner":0,"round":true},"axis":{"title":null}},"y":{"field":"sy","type":"ordinal","sort":"descending","scale":{"paddingOuter":0.2,"paddingInner":0,"round":true},"axis":{"title":null}},"color":{"field":"auc","type":"quantitative","scale":{"domain":[0.5,0.99],"nice":false,"zero":false,"range":["#ffffff","#000000"],"interpolate":"lab"},"legend":{"title":"AUC","values":[0.58,0.68,0.78,0.88,0.98],"format":".2f","encoding":{"labels":{"angle":{"value":-90},"align":{"value":"right"},"baseline":{"value":"middle"}}}}}}},
{"width":187,"height":68,"data":{"name":"I2"},"mark":"rect","encoding":{"x":{"field":"sx","type":"ordinal","scale":{"paddingOuter":0.08,"paddingInner":0,"round":true},"axis":{"title":"σX : Standard deviation along X−axis (in pixel units of 64x80 normalized image)"}},"y":{"field":"sy","type":"ordinal","sort":"descending","scale":{"paddingOuter":0.2,"paddingInner":0,"round":true},"axis":null},"color":{"field":"auc","type":"quantitative","scale":{"domain":[0.5,0.99],"nice":false,"zero":false,"range":["#ffffff","#000000"],"interpolate":"lab"},"legend":{"title":"AUC","values":[0.58,0.68,0.78,0.88,0.98],"format":".2f","encoding":{"labels":{"angle":{"value":-90},"align":{"value":"right"},"baseline":{"value":"middle"}}}}}}},
{"width":187,"height":68,"data":{"name":"I3"},"mark":"rect","encoding":{"x":{"field":"sx","type":"ordinal","scale":{"paddingOuter":0.08,"paddingInner":0,"round":true},"axis":{"title":null}},"y":{"field":"sy","type":"ordinal","sort":"descending","scale":{"paddingOuter":0.2,"paddingInner":0,"round":true},"axis":null},"color":{"field":"auc","type":"quantitative","scale":{"domain":[0.5,0.99],"nice":false,"zero":false,"range":["#ffffff","#000000"],"interpolate":"lab"},"legend":{"title":"AUC","values":[0.58,0.68,0.78,0.88,0.98],"format":".2f","encoding":{"labels":{"angle":{"value":-90},"align":{"value":"right"},"baseline":{"value":"middle"}}}}}}},
{"width":13,"height":68,"data":{"values":[{"label":"ISV"}]},"mark":{"type":"text","fontSize":10,"angle":90,"color":"#1a1a1a"},"encoding":{"text":{"field":"label","type":"nominal"}},"view":{"fill":"#cfcfcf","stroke":"#9a9a9a"}}
]
}
